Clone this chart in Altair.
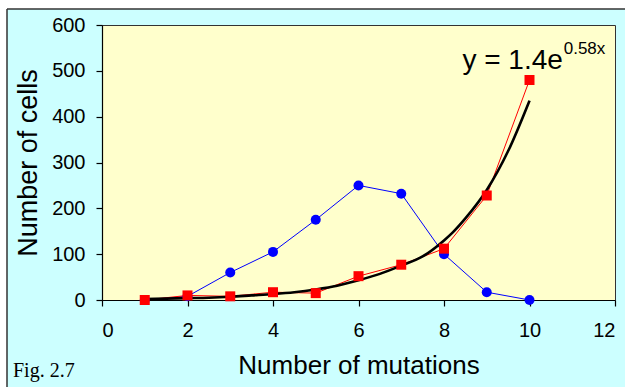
import altair as alt
import pandas as pd

# --- data ---
mutations = [1, 2, 3, 4, 5, 6, 7, 8, 9, 10]
red_cells = [0, 10, 8, 17, 15, 52, 77, 112, 228, 480]
blue_cells = [0, 8, 60, 105, 175, 250, 232, 100, 17, 0]

trend_x = [1, 1.5, 2, 2.5, 3, 3.5, 4, 4.5, 5, 5.5, 6, 6.5, 7, 7.5, 8, 8.2, 8.5, 9, 9.5, 10]
trend_y = [2, 3, 4, 5, 7, 10, 13, 17, 23, 31, 43, 57, 75, 95, 130, 147, 178, 240, 325, 435]

x_ticks = [0, 2, 4, 6, 8, 10, 12]
y_ticks = [0, 100, 200, 300, 400, 500, 600]

W, H = 513, 275

red_df = pd.DataFrame({"x": mutations, "y": red_cells})
blue_df = pd.DataFrame({"x": mutations, "y": blue_cells})
trend_df = pd.DataFrame({"x": trend_x, "y": trend_y})
one = pd.DataFrame({"k": [0]})

xs = alt.Scale(domain=[0, 12], nice=False, zero=False)
ys = alt.Scale(domain=[0, 600], nice=False)

xenc = alt.X("x:Q", scale=xs, axis=alt.Axis(
    values=x_ticks, title="Number of mutations", grid=False,
    tickSize=6, labelPadding=14, titleBaseline="alphabetic", titleAlign="center",
    titleX=W / 2, titleY=73, titleFontSize=26))
yenc = alt.Y("y:Q", scale=ys, axis=alt.Axis(
    values=y_ticks, title="Number of cells", grid=False,
    tickSize=6, labelPadding=11, titleBaseline="alphabetic", titleAlign="center",
    titleAngle=270, titleX=-66, titleY=H / 2, titleFontSize=27))

# white strips + frame lines outside the cyan panel
white_top = alt.Chart(one).mark_rect(color="white").encode(
    x=alt.value(-102), x2=alt.value(W + 10), y=alt.value(-25), y2=alt.value(-16))
white_left = alt.Chart(one).mark_rect(color="white").encode(
    x=alt.value(-102), x2=alt.value(-95), y=alt.value(-25), y2=alt.value(H + 87))
frame_top = alt.Chart(one).mark_rule(color="#333333", strokeWidth=1.5).encode(
    x=alt.value(-95), x2=alt.value(W + 10), y=alt.value(-16))
frame_left = alt.Chart(one).mark_rule(color="#333333", strokeWidth=1.5).encode(
    x=alt.value(-95), y=alt.value(-16), y2=alt.value(H + 87))

blue_line = alt.Chart(blue_df).mark_line(color="#0000ff", strokeWidth=1).encode(x=xenc, y=yenc)
blue_pts = alt.Chart(blue_df).mark_circle(color="#0000ff", size=100, opacity=1).encode(x="x:Q", y="y:Q")
red_line = alt.Chart(red_df).mark_line(color="#ff0000", strokeWidth=1).encode(x="x:Q", y="y:Q")
red_pts = alt.Chart(red_df).mark_square(color="#ff0000", size=100, opacity=1, filled=True).encode(x="x:Q", y="y:Q")
trend = alt.Chart(trend_df).mark_line(color="black", strokeWidth=2.6, interpolate="monotone").encode(x="x:Q", y="y:Q")

eq_main = alt.Chart(pd.DataFrame({"x": [10.78], "y": [505], "t": ["y = 1.4e"]})).mark_text(
    align="right", baseline="alphabetic", fontSize=28, font="Liberation Sans", color="black"
).encode(x="x:Q", y="y:Q", text="t:N")
eq_sup = alt.Chart(pd.DataFrame({"x": [10.8], "y": [536], "t": ["0.58x"]})).mark_text(
    align="left", baseline="alphabetic", fontSize=17, font="Liberation Sans", color="black"
).encode(x="x:Q", y="y:Q", text="t:N")

fig = alt.Chart(one).mark_text(
    align="left", baseline="alphabetic", fontSize=20, font="Liberation Serif", color="black", text="Fig. 2.7"
).encode(x=alt.value(-89), y=alt.value(352))

chart = alt.layer(
    white_top, white_left, frame_top, frame_left,
    blue_line, red_line, trend, blue_pts, red_pts, eq_main, eq_sup, fig
).properties(
    width=W, height=H,
    autosize=alt.AutoSizeParams(type="none"),
    padding={"left": 102, "top": 25, "right": 10, "bottom": 87},
    background="#ccffff",
).configure_view(
    fill="#ffffcc", stroke="#333333", strokeWidth=1
).configure_axis(
    labelFont="Liberation Sans", titleFont="Liberation Sans",
    labelFontSize=20, labelColor="black", titleColor="black",
    titleFontWeight="normal", domainColor="black", tickColor="black",
    domainWidth=1.2, tickWidth=1.2
)

chart.save("out.html", embed_options={"renderer": "svg", "actions": False})
